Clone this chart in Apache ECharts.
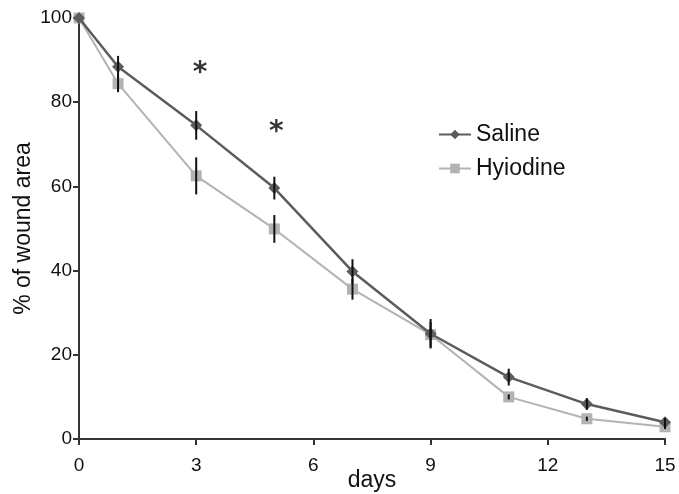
<!DOCTYPE html>
<html>
<head>
<meta charset="utf-8">
<script src="https://cdn.jsdelivr.net/npm/echarts@6/dist/echarts.min.js"></script>
<style>
html,body{margin:0;padding:0;background:#fff;}
#chart{width:679px;height:494px;}
</style>
</head>
<body>
<div id="chart"></div>
<script>
var days = [0, 1, 3, 5, 7, 9, 11, 13, 15];
var salineMean = [100, 88.4, 74.5, 59.6, 39.8, 25, 14.7, 8.3, 4.0];
var salineErr = [0, 2.6, 3.4, 2.7, 2.9, 3.5, 2.0, 1.4, 1.0];
var hyiodineMean = [100, 84.4, 62.5, 49.9, 35.6, 24.8, 10.0, 4.8, 2.9];
var hyiodineErr = [0, 2.0, 4.4, 3.3, 2.5, 3.0, 0.6, 0.5, 0.5];
var xTicks = [0, 3, 6, 9, 12, 15];
var yTicks = [0, 20, 40, 60, 80, 100];
var starPoints = [[3.1, 88.5], [5.05, 74.5]];

var FONT = 'Liberation Sans, Arial, sans-serif';

function pairs(xs, ys) { return xs.map(function (x, i) { return [x, ys[i]]; }); }
function errData(xs, m, e) {
  return xs.map(function (x, i) { return [x, m[i] - e[i], m[i] + e[i]]; }).filter(function (d) { return d[2] - d[1] > 0.01; });
}
function renderErr(params, api) {
  var p1 = api.coord([api.value(0), api.value(1)]);
  var p2 = api.coord([api.value(0), api.value(2)]);
  return {
    type: 'line',
    shape: { x1: p1[0], y1: p1[1], x2: p2[0], y2: p2[1] },
    style: { stroke: '#111', lineWidth: 2 }
  };
}

var chart = echarts.init(document.getElementById('chart'));
chart.setOption({
  animation: false,
  backgroundColor: '#fff',
  textStyle: { fontFamily: FONT },
  grid: { left: 79, right: 14, top: 18, bottom: 55, containLabel: false, outerBoundsMode: 'none' },
  legend: {
    orient: 'vertical',
    left: 438,
    top: 123,
    padding: 0,
    itemWidth: 32,
    itemHeight: 12,
    itemGap: 11,
    textStyle: { fontSize: 23, color: '#111', fontFamily: FONT },
    data: ['Saline', 'Hyiodine']
  },
  xAxis: {
    type: 'value',
    min: 0, max: 15, interval: 3,
    name: 'days',
    nameLocation: 'middle',
    nameGap: 30,
    nameMoveOverlap: false,
    nameTextStyle: { fontSize: 23, color: '#111', fontFamily: FONT },
    axisLine: { lineStyle: { color: '#333', width: 2 } },
    axisTick: { show: true, length: 6, lineStyle: { color: '#333', width: 2 }, customValues: xTicks },
    axisLabel: { fontSize: 19, color: '#111', margin: 17, customValues: xTicks },
    splitLine: { show: false }
  },
  yAxis: {
    type: 'value',
    min: 0, max: 100, interval: 20,
    name: '% of wound area',
    nameLocation: 'middle',
    nameGap: 44,
    nameMoveOverlap: false,
    nameTextStyle: { fontSize: 23, color: '#111', fontFamily: FONT },
    axisLine: { show: true, lineStyle: { color: '#333', width: 2 } },
    axisTick: { show: true, length: 6, lineStyle: { color: '#333', width: 2 }, customValues: yTicks },
    axisLabel: { fontSize: 19, color: '#111', margin: 7, customValues: yTicks },
    splitLine: { show: false }
  },
  series: [
    {
      name: 'Hyiodine',
      type: 'line',
      data: pairs(days, hyiodineMean),
      symbol: 'rect',
      symbolSize: 11,
      itemStyle: { color: '#b3b3b3' },
      lineStyle: { color: '#b3b3b3', width: 2 },
      z: 2
    },
    {
      name: 'Saline',
      type: 'line',
      data: pairs(days, salineMean),
      symbol: 'diamond',
      symbolSize: 12,
      itemStyle: { color: '#5c5c5c' },
      lineStyle: { color: '#5c5c5c', width: 2.5 },
      z: 3
    },
    {
      type: 'custom',
      renderItem: renderErr,
      data: errData(days, hyiodineMean, hyiodineErr),
      encode: { x: 0, y: [1, 2] },
      z: 5,
      silent: true
    },
    {
      type: 'custom',
      renderItem: renderErr,
      data: errData(days, salineMean, salineErr),
      encode: { x: 0, y: [1, 2] },
      z: 5,
      silent: true
    },
    {
      type: 'scatter',
      data: starPoints,
      symbolSize: 0,
      silent: true,
      label: {
        show: true,
        position: 'inside',
        formatter: '*',
        fontSize: 28,
        fontWeight: 'bold',
        color: '#000',
        fontFamily: 'DejaVu Sans, sans-serif',
        offset: [0, 7]
      },
      z: 6
    }
  ]
});
</script>
</body>
</html>
